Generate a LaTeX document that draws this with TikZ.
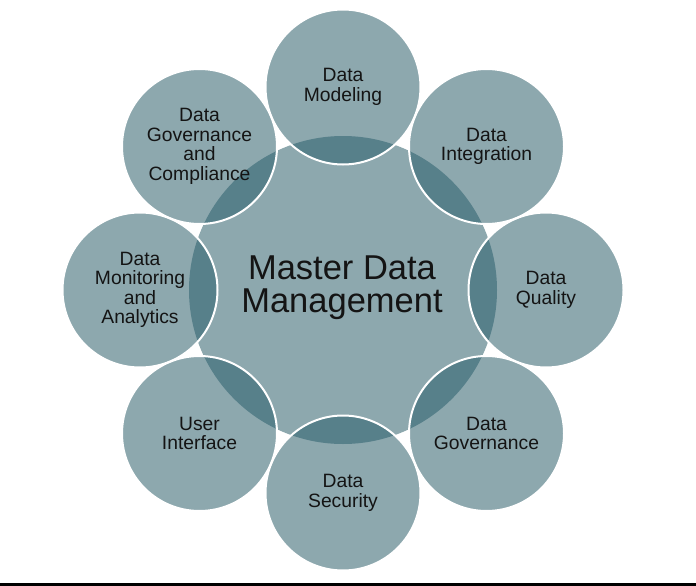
\documentclass[tikz,border=0pt]{standalone}
\usepackage{fontspec}
\setmainfont{Liberation Sans}
\definecolor{fillA}{HTML}{8DA8AE}
\definecolor{fillB}{HTML}{57808A}
\definecolor{txt}{HTML}{141414}
\begin{document}
\begin{tikzpicture}[x=1pt,y=-1pt,
  outer/.style={circle, fill=fillA, minimum size=155pt, inner sep=0pt, outer sep=0pt},
  lbl/.style={align=center, text=txt, font=\fontsize{19.3}{19.5}\selectfont, inner sep=0pt},
  big/.style={anchor=base, text=txt, font=\fontsize{34.5}{36}\selectfont, inner sep=0pt},
  ring/.style={draw=white, line width=2pt}]
\useasboundingbox (0,0) rectangle (696,586);
\fill[white] (0,0) rectangle (696,586);
\fill[black] (0,583.3) rectangle (696,585.6);
% central
\node[circle, fill=fillA, minimum size=308pt, inner sep=0pt, outer sep=0pt] (mdm) at (343,290) {};
% outer circles
\node[outer] (o1) at (343,87) {};
\node[outer] (o2) at (486.5,146.5) {};
\node[outer] (o3) at (546,290) {};
\node[outer] (o4) at (486.5,433.5) {};
\node[outer] (o5) at (343,493) {};
\node[outer] (o6) at (199.5,433.5) {};
\node[outer] (o7) at (140,290) {};
\node[outer] (o8) at (199.5,146.5) {};
% overlaps
\begin{scope}
  \clip (mdm) circle (154pt);
  \foreach \n in {1,...,8} \fill[fillB] (o\n) circle (77.5pt);
\end{scope}
% white rings
\foreach \n in {1,...,8} \draw[ring] (o\n) circle (77.5pt);
% labels
\node[big] (mdmA) at (342,279.5) {Master Data};
\node[big] (mdmB) at (342,312.5) {Management};
\node[lbl] at (o1) {Data\\Modeling};
\node[lbl] at (o2) {Data\\Integration};
\node[lbl] at (o3) {Data\\Quality};
\node[lbl] at (o4) {Data\\Governance};
\node[lbl] at (o5) {Data\\Security};
\node[lbl] at (o6) {User\\Interface};
\node[lbl] at (o7) {Data\\Monitoring\\and\\Analytics};
\node[lbl] at (o8) {Data\\Governance\\and\\Compliance};
\end{tikzpicture}
\end{document}
